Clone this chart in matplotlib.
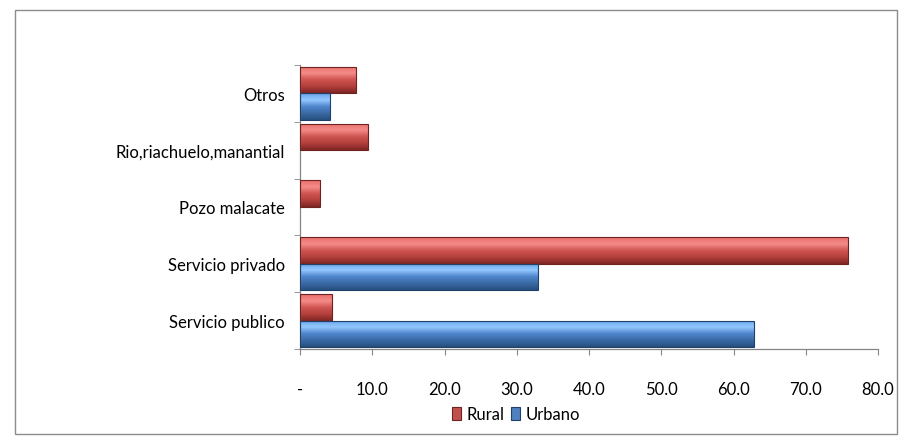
import numpy as np
import matplotlib.pyplot as plt
from matplotlib.colors import LinearSegmentedColormap
from matplotlib.patches import Rectangle

plt.rcParams['font.family'] = ['Lato', 'DejaVu Sans']

categories = ["Servicio publico", "Servicio privado", "Pozo malacate",
              "Rio,riachuelo,manantial", "Otros"]
rural = [4.4, 75.8, 2.8, 9.4, 7.7]
urbano = [62.8, 32.9, 0.0, 0.0, 4.1]
xticks = [0, 10, 20, 30, 40, 50, 60, 70, 80]
xticklabels = ["-", "10.0", "20.0", "30.0", "40.0", "50.0", "60.0", "70.0", "80.0"]

red_cmap = LinearSegmentedColormap.from_list(
    "red3d", ["#7e2624", "#b3403d", "#cf5551", "#f58c89", "#e86f6c"])
blue_cmap = LinearSegmentedColormap.from_list(
    "blue3d", ["#25507f", "#3a6aa5", "#4f86cc", "#93c8ff", "#66a3e8"])


def shade(ax, bars, cmap):
    grad = np.linspace(0, 1, 64).reshape(-1, 1)
    for b in bars:
        if b.get_width() <= 0:
            b.set_linewidth(0)
            continue
        x0, y0 = b.get_x(), b.get_y()
        im = ax.imshow(grad, cmap=cmap, aspect="auto", origin="lower",
                       extent=[x0, x0 + b.get_width(), y0, y0 + b.get_height()],
                       zorder=2)
        im.set_clip_path(b)


fig = plt.figure(figsize=(9.04, 4.39), dpi=100)
ax = fig.add_axes([300 / 904, 1 - 350 / 439, 578 / 904, 284 / 439])

y = np.arange(len(categories))
h = 0.47
rb = ax.barh(y + h / 2, rural, height=h, color="#c0504d", edgecolor="#6e2321",
             linewidth=0.8, label="Rural", zorder=3)
ub = ax.barh(y - h / 2, urbano, height=h, color="#4f81bd", edgecolor="#21416a",
             linewidth=0.8, label="Urbano", zorder=3)
for b in list(rb) + list(ub):
    b.set_facecolor("none")
shade(ax, rb, red_cmap)
shade(ax, ub, blue_cmap)

ax.set_xlim(0, 80)
ax.set_ylim(-0.5, len(categories) - 0.5)
ax.set_xticks(xticks)
ax.set_xticklabels(xticklabels)
ax.set_yticks(y)
ax.set_yticklabels(categories)
ax.set_yticks(np.arange(len(categories) + 1) - 0.5, minor=True)

for s in ["top", "right"]:
    ax.spines[s].set_visible(False)
for s in ["left", "bottom"]:
    ax.spines[s].set_color("#868686")
    ax.spines[s].set_linewidth(0.9)

ax.tick_params(axis="x", length=4, color="#868686", pad=19, labelsize=12)
ax.tick_params(axis="y", which="major", length=0, pad=11, labelsize=12)
ax.tick_params(axis="y", which="minor", length=4, color="#868686")

fig.legend(handles=[rb, ub], labels=["Rural", "Urbano"], loc="center",
           bbox_to_anchor=(516 / 904, 1 - 415 / 439), ncol=2, frameon=False,
           fontsize=12, handlelength=0.55, handleheight=0.85,
           handletextpad=0.3, columnspacing=0.4)
for patch, c, e in zip(fig.legends[0].get_patches(), ["#c0504d", "#4f81bd"],
                       ["#6e2321", "#21416a"]):
    patch.set_facecolor(c)
    patch.set_edgecolor(e)

fig.patches.append(Rectangle((15 / 904, 1 - 435 / 439), 882 / 904, 424 / 439,
                             transform=fig.transFigure, fill=False,
                             edgecolor="#8c8c8c", linewidth=1))

fig.savefig("out.png", dpi=100)
